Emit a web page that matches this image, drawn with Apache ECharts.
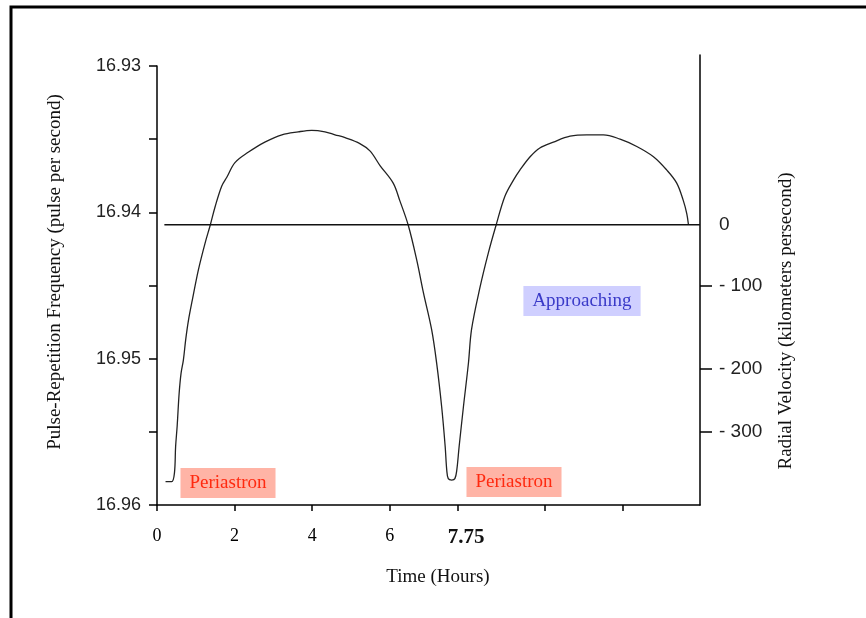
<!DOCTYPE html>
<html>
<head>
<meta charset="utf-8">
<script src="https://cdn.jsdelivr.net/npm/echarts@6/dist/echarts.min.js"></script>
<style>
html, body { margin: 0; padding: 0; background: #fff; }
#main { width: 866px; height: 618px; }
</style>
</head>
<body>
<div id="main"></div>
<script>
// curve: time (hours) / pulse frequency
var timeHours = [0.22, 0.38, 0.45, 0.48, 0.52, 0.57, 0.62, 0.68, 0.74, 0.81,
	0.91, 1.07, 1.24, 1.37, 1.50, 1.67, 1.80, 2.01, 2.35, 2.78,
	3.22, 3.64, 3.99, 4.33, 4.59, 4.85, 5.23, 5.49, 5.75, 6.09,
	6.26, 6.48, 6.70, 6.87, 7.08, 7.21, 7.34, 7.43, 7.47, 7.51,
	7.60, 7.68, 7.73, 7.79, 7.90, 8.03, 8.11, 8.33, 8.54, 8.74,
	8.97, 9.19, 9.36, 9.62, 9.87, 10.22, 10.65, 11.08, 11.51, 11.94,
	12.37, 12.80, 13.14, 13.40, 13.57, 13.66, 13.70];
var pulseFreq = [16.9584, 16.9584, 16.9578, 16.9560, 16.9546, 16.9524, 16.9510, 16.9501, 16.9487, 16.9474,
	16.9460, 16.9439, 16.9421, 16.9409, 16.9396, 16.9382, 16.9376, 16.9366, 16.9359, 16.9352,
	16.9347, 16.9345, 16.9344, 16.9345, 16.9347, 16.9349, 16.9353, 16.9358, 16.9368, 16.9380,
	16.9392, 16.9409, 16.9433, 16.9455, 16.9480, 16.9503, 16.9533, 16.9560, 16.9576, 16.9582,
	16.9583, 16.9582, 16.9576, 16.9560, 16.9533, 16.9503, 16.9480, 16.9451, 16.9428, 16.9409,
	16.9389, 16.9378, 16.9371, 16.9362, 16.9356, 16.9352, 16.9348, 16.9347, 16.9347, 16.9350,
	16.9355, 16.9362, 16.9371, 16.9380, 16.9392, 16.9401, 16.9408];

// zero radial velocity line
var zeroLineTime = [0.19, 14];
var zeroLineFreq = [16.94085, 16.94085];

// axes
var freqTicks = [16.93, 16.935, 16.94, 16.945, 16.95, 16.955, 16.96];
var freqLabels = [16.93, 16.94, 16.95, 16.96];
var timeTicks = [0, 2, 4, 6, 7.75, 10, 12];
var timeLabels = [0, 2, 4, 6, 7.75];
var velocityLabels = ['0', '- 100', '- 200', '- 300'];
var velocityAt = [16.94085, 16.9450, 16.9507, 16.9550];

var serif = '"Liberation Serif", "DejaVu Serif", serif';
var sans = '"Liberation Sans", Arial, sans-serif';

function pairs(xs, ys) {
	var out = [];
	for (var i = 0; i < xs.length; i++) {
		out.push([xs[i], ys[i]]);
	}
	return out;
}

var chart = echarts.init(document.getElementById('main'), null, { renderer: 'canvas' });

// right axis sticks up a bit higher than the left one
var topLeft = 66, topRight = 55, plotBottom = 113;
var plotHeight = 618 - topLeft - plotBottom;
var rightMin = 16.93 - 0.03 * (topLeft - topRight) / plotHeight;

var axisLine = { show: true, onZero: false, lineStyle: { color: '#000', width: 1.5 } };

var option = {
	animation: false,
	backgroundColor: '#fff',
	grid: [
		{ left: 157, right: 166, top: topLeft, bottom: plotBottom },
		{ left: 157, right: 166, top: topRight, bottom: plotBottom }
	],
	xAxis: [
		{
			gridIndex: 0,
			type: 'value',
			min: 0,
			max: 14,
			axisLine: axisLine,
			axisTick: { show: true, length: 6, customValues: timeTicks, lineStyle: { color: '#000', width: 1.5 } },
			axisLabel: {
				customValues: timeLabels,
				margin: 22,
				fontFamily: serif,
				fontSize: 18,
				color: '#000',
				formatter: function (v) {
					return v === 7.75 ? '{big|7.75}' : String(v);
				},
				rich: {
					big: { fontFamily: serif, fontSize: 21, fontWeight: 'bold', color: '#111', padding: [0, 0, 0, 17] }
				}
			},
			splitLine: { show: false }
		},
		{ gridIndex: 1, type: 'value', min: 0, max: 14, show: false }
	],
	yAxis: [
		{
			gridIndex: 0,
			type: 'value',
			position: 'left',
			inverse: true,
			min: 16.93,
			max: 16.96,
			axisLine: axisLine,
			axisTick: { show: true, length: 8, customValues: freqTicks, lineStyle: { color: '#000', width: 1.5 } },
			axisLabel: {
				customValues: freqLabels,
				margin: 16,
				fontFamily: sans,
				fontSize: 18,
				color: '#222',
				formatter: function (v) { return v.toFixed(2); }
			},
			splitLine: { show: false }
		},
		{
			gridIndex: 1,
			type: 'value',
			position: 'right',
			inverse: true,
			min: rightMin,
			max: 16.96,
			axisLine: axisLine,
			axisTick: { show: true, length: 12, customValues: velocityAt.slice(1), lineStyle: { color: '#000', width: 1.5 } },
			axisLabel: {
				customValues: velocityAt,
				margin: 19,
				fontFamily: sans,
				fontSize: 19,
				color: '#222',
				formatter: function (v) {
					var best = 0;
					for (var i = 1; i < velocityAt.length; i++) {
						if (Math.abs(velocityAt[i] - v) < Math.abs(velocityAt[best] - v)) best = i;
					}
					return velocityLabels[best];
				}
			},
			splitLine: { show: false }
		}
	],
	series: [
		{
			type: 'line',
			xAxisIndex: 0,
			yAxisIndex: 0,
			data: pairs(timeHours, pulseFreq),
			smooth: 0.35,
			symbol: 'none',
			lineStyle: { color: '#222', width: 1.3 }
		},
		{
			type: 'line',
			xAxisIndex: 0,
			yAxisIndex: 0,
			data: pairs(zeroLineTime, zeroLineFreq),
			symbol: 'none',
			lineStyle: { color: '#111', width: 1.5 }
		}
	],
	graphic: [
		{
			type: 'polyline',
			shape: { points: [[11, 620], [11, 7], [870, 7]] },
			style: { stroke: '#000', lineWidth: 3, fill: null }
		},
		{
			type: 'text',
			x: 55, y: 272,
			rotation: Math.PI / 2,
			style: { text: 'Pulse-Repetition Frequency (pulse per second)', font: '19px ' + serif, fill: '#111', align: 'center', verticalAlign: 'middle' }
		},
		{
			type: 'text',
			x: 786, y: 321,
			rotation: Math.PI / 2,
			style: { text: 'Radial Velocity (kilometers persecond)', font: '19px ' + serif, fill: '#111', align: 'center', verticalAlign: 'middle' }
		},
		{
			type: 'text',
			x: 438, y: 577,
			style: { text: 'Time (Hours)', font: '19px ' + serif, fill: '#111', align: 'center', verticalAlign: 'middle' }
		},
		{
			type: 'text',
			x: 228, y: 483,
			style: { text: 'Periastron', font: '19px ' + serif, fill: '#ff2a10', backgroundColor: '#ffb4a6', padding: [6, 9, 5, 9], align: 'center', verticalAlign: 'middle' }
		},
		{
			type: 'text',
			x: 514, y: 482,
			style: { text: 'Periastron', font: '19px ' + serif, fill: '#ff2a10', backgroundColor: '#ffb4a6', padding: [6, 9, 5, 9], align: 'center', verticalAlign: 'middle' }
		},
		{
			type: 'text',
			x: 582, y: 301,
			style: { text: 'Approaching', font: '19px ' + serif, fill: '#3a3ac8', backgroundColor: '#cfcfff', padding: [6, 9, 5, 9], align: 'center', verticalAlign: 'middle' }
		}
	]
};

chart.setOption(option);
</script>
</body>
</html>
